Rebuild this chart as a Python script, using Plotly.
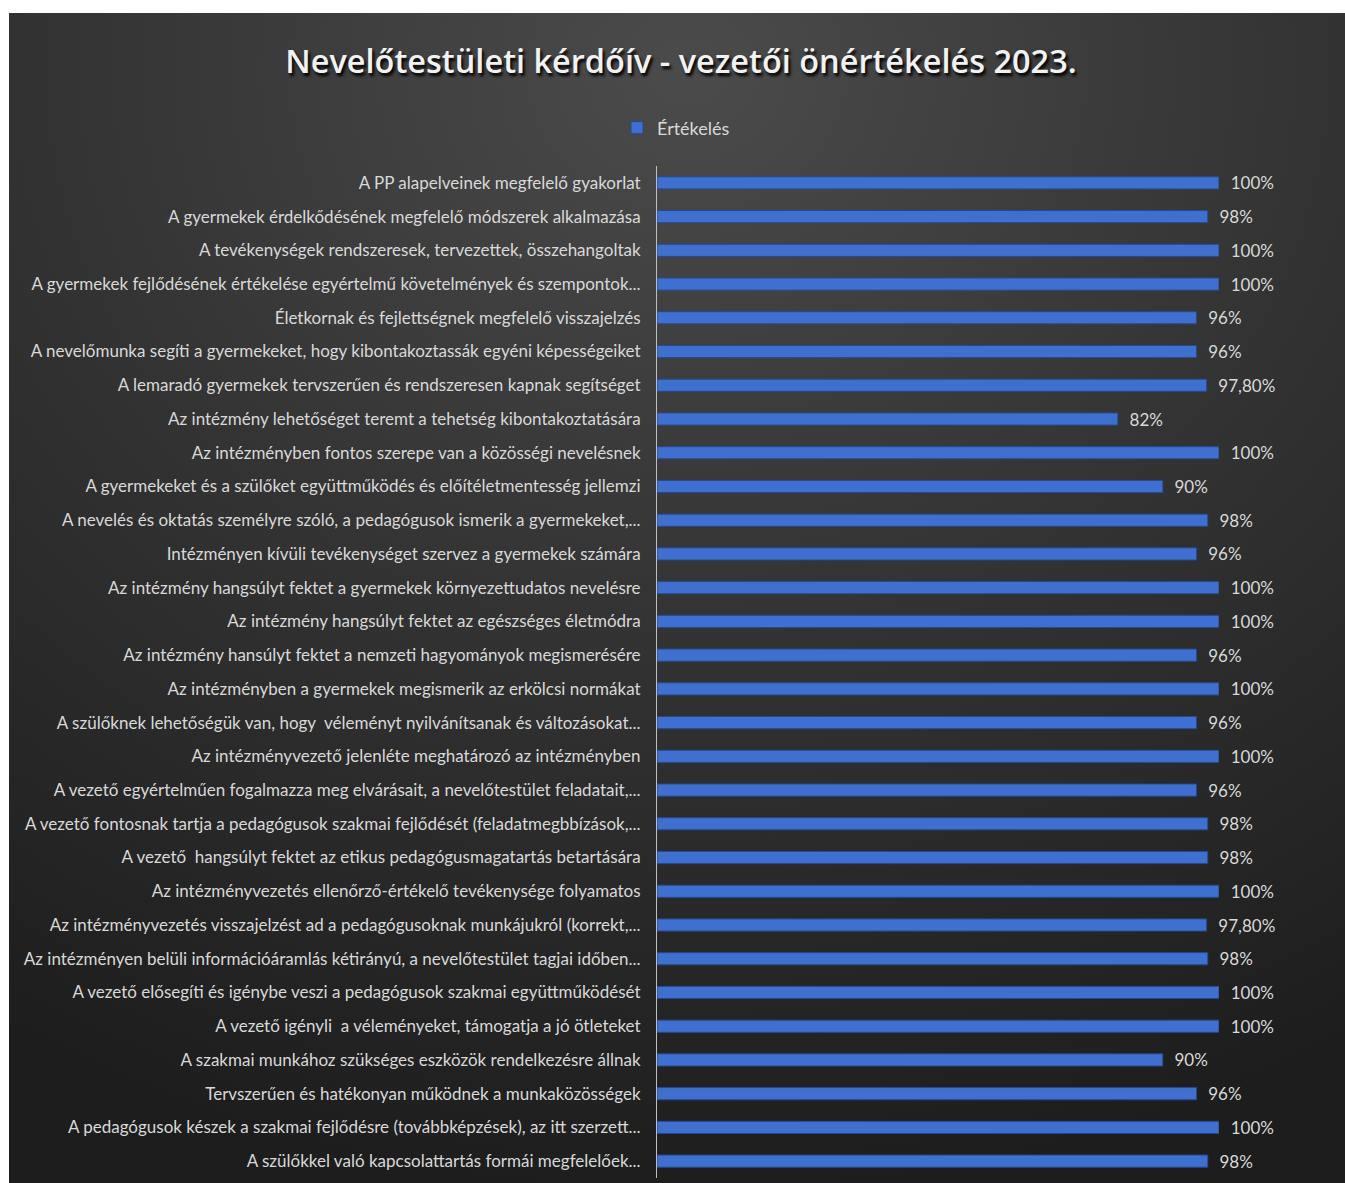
import base64
import plotly.graph_objects as go

categories = [
    "A PP alapelveinek megfelelő gyakorlat",
    "A gyermekek érdelkődésének megfelelő módszerek alkalmazása",
    "A tevékenységek rendszeresek, tervezettek, összehangoltak",
    "A gyermekek fejlődésének értékelése egyértelmű követelmények és szempontok...",
    "Életkornak és fejlettségnek megfelelő visszajelzés",
    "A nevelőmunka segíti a gyermekeket, hogy kibontakoztassák egyéni képességeiket",
    "A lemaradó gyermekek tervszerűen és rendszeresen kapnak segítséget",
    "Az intézmény lehetőséget teremt a tehetség kibontakoztatására",
    "Az intézményben fontos szerepe van a közösségi nevelésnek",
    "A gyermekeket és a szülőket együttműködés és előítéletmentesség jellemzi",
    "A nevelés és oktatás személyre szóló, a pedagógusok ismerik a gyermekeket,...",
    "Intézményen kívüli tevékenységet szervez a gyermekek számára",
    "Az intézmény hangsúlyt fektet a gyermekek környezettudatos nevelésre",
    "Az intézmény hangsúlyt fektet az egészséges életmódra",
    "Az intézmény hansúlyt fektet a nemzeti hagyományok megismerésére",
    "Az intézményben a gyermekek megismerik az erkölcsi normákat",
    "A szülőknek lehetőségük van, hogy  véleményt nyilvánítsanak és változásokat...",
    "Az intézményvezető jelenléte meghatározó az intézményben",
    "A vezető egyértelműen fogalmazza meg elvárásait, a nevelőtestület feladatait,...",
    "A vezető fontosnak tartja a pedagógusok szakmai fejlődését (feladatmegbbízások,...",
    "A vezető  hangsúlyt fektet az etikus pedagógusmagatartás betartására",
    "Az intézményvezetés ellenőrző-értékelő tevékenysége folyamatos",
    "Az intézményvezetés visszajelzést ad a pedagógusoknak munkájukról (korrekt,...",
    "Az intézményen belüli információáramlás kétirányú, a nevelőtestület tagjai időben...",
    "A vezető elősegíti és igénybe veszi a pedagógusok szakmai együttműködését",
    "A vezető igényli  a véleményeket, támogatja a jó ötleteket",
    "A szakmai munkához szükséges eszközök rendelkezésre állnak",
    "Tervszerűen és hatékonyan működnek a munkaközösségek",
    "A pedagógusok készek a szakmai fejlődésre (továbbképzések), az itt szerzett...",
    "A szülőkkel való kapcsolattartás formái megfelelőek...",
]

values = [1.00, 0.98, 1.00, 1.00, 0.96, 0.96, 0.978, 0.82, 1.00, 0.90,
          0.98, 0.96, 1.00, 1.00, 0.96, 1.00, 0.96, 1.00, 0.96, 0.98,
          0.98, 1.00, 0.978, 0.98, 1.00, 1.00, 0.90, 0.96, 1.00, 0.98]

value_labels = ["100%", "98%", "100%", "100%", "96%", "96%", "97,80%", "82%", "100%", "90%",
                "98%", "96%", "100%", "100%", "96%", "100%", "96%", "100%", "96%", "98%",
                "98%", "100%", "97,80%", "98%", "100%", "100%", "90%", "96%", "100%", "98%"]

series_name = "Értékelés"
title_text = "Nevelőtestületi kérdőív - vezetői önértékelés 2023."

# page body margin is removed by the post script: figure coordinates = screen
W, H = 1345, 1183
ML = 657
MR = W - 1219
MT = 166
MB = H - 1178
pw = W - ML - MR
ph = H - MT - MB

svg = (
    '<svg xmlns="http://www.w3.org/2000/svg" width="1336" height="1170" viewBox="0 0 1336 1170" preserveAspectRatio="none">'
    '<defs><radialGradient id="g" cx="0.5" cy="0.05" r="0.95" fx="0.5" fy="0.05" gradientUnits="objectBoundingBox">'
    '<stop offset="0" stop-color="#4b4b4b"/>'
    '<stop offset="0.45" stop-color="#353535"/>'
    '<stop offset="1" stop-color="#1d1d1d"/>'
    '</radialGradient></defs>'
    '<rect x="0" y="0" width="1336" height="1170" fill="url(#g)"/></svg>'
)
bg_src = "data:image/svg+xml;base64," + base64.b64encode(svg.encode("utf-8")).decode("ascii")

bx0, by0 = 9, 13
img_x = (bx0 - ML) / pw
img_y = (H - MB - by0) / ph
img_w = (W + 20 - bx0) / pw
img_h = (H + 20 - by0) / ph

label_font = "Lato, Liberation Sans Narrow, sans-serif"

fig = go.Figure()
fig.add_trace(go.Bar(
    y=categories,
    x=values,
    orientation="h",
    name=series_name,
    text=value_labels,
    texttemplate="\u00a0\u00a0%{text}",
    textposition="outside",
    constraintext="none",
    cliponaxis=False,
    textfont=dict(family=label_font, size=17, color="#d9d9d9"),
    marker=dict(color="#3f70cf", line=dict(color="#27498f", width=1)),
    showlegend=True,
))

fig.update_layout(
    width=W, height=H,
    margin=dict(l=ML, r=MR, t=MT, b=MB, autoexpand=False),
    paper_bgcolor="white",
    plot_bgcolor="rgba(0,0,0,0)",
    bargap=0.64,
    title=dict(
        text=title_text,
        x=681 / W, xref="container", xanchor="center",
        y=1 - 62 / H, yref="container", yanchor="middle",
        font=dict(family="Open Sans, Noto Sans, sans-serif", size=32.5, color="#f2f2f2",
                  weight=600, shadow="2px 3px 3px #000000"),
    ),
    legend=dict(
        orientation="h",
        x=676 / W, xref="container", xanchor="center",
        y=1 - 128 / H, yref="container", yanchor="middle",
        font=dict(family=label_font, size=18, color="#d9d9d9"),
        bgcolor="rgba(0,0,0,0)",
        itemwidth=30,
    ),
    xaxis=dict(range=[0, 1.0], visible=False, fixedrange=True),
    yaxis=dict(
        autorange="reversed",
        showline=True, linecolor="#bfbfbf", linewidth=1,
        showgrid=False, zeroline=False, fixedrange=True,
        ticks="", ticklabelstandoff=12,
        tickfont=dict(family=label_font, size=17, color="#d9d9d9"),
    ),
    images=[dict(
        source=bg_src, xref="paper", yref="paper",
        x=img_x, y=img_y, sizex=img_w, sizey=img_h,
        xanchor="left", yanchor="top", sizing="stretch", layer="below",
    )],
)

fig.write_html(
    "out.html",
    config={"displayModeBar": False},
    post_script="document.body.style.margin='0';document.documentElement.style.overflow='hidden';document.body.style.overflow='hidden';",
)
